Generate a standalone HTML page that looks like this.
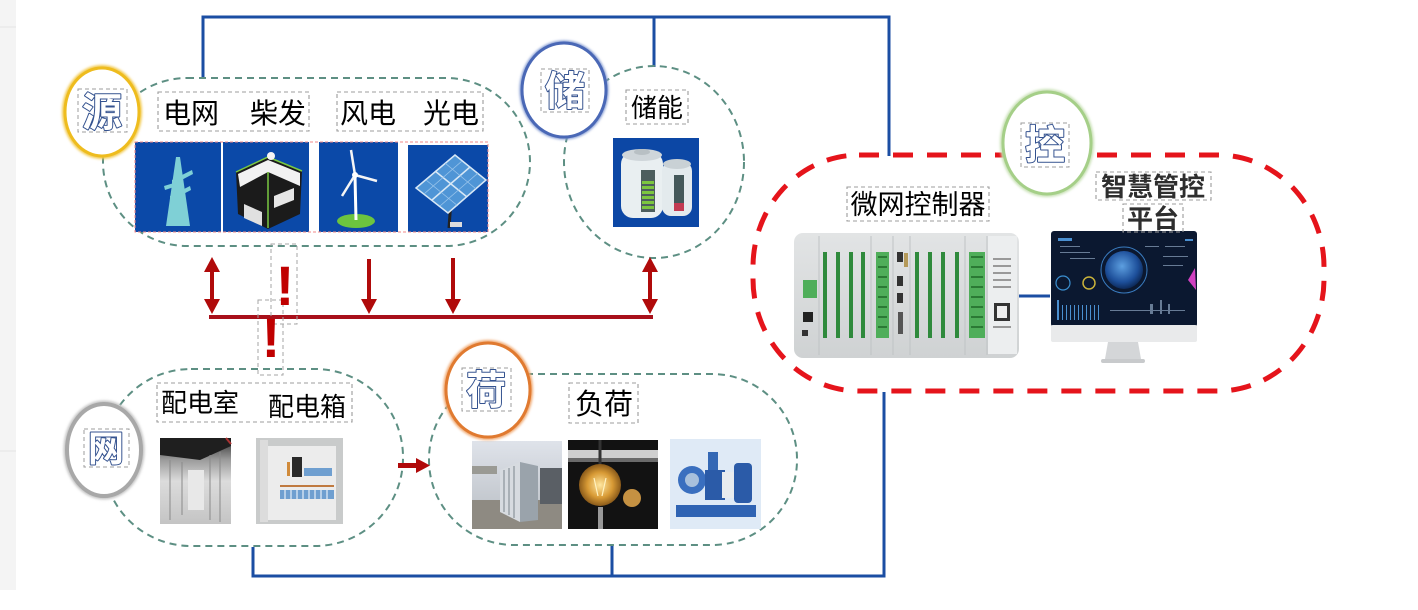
<!DOCTYPE html>
<html><head><meta charset="utf-8"><style>
html,body{margin:0;padding:0;background:#fff;}
svg{display:block}
text{font-family:"Liberation Sans","Noto Sans CJK SC",sans-serif;}
.cjk{font-family:"Liberation Sans","Noto Sans CJK SC",sans-serif;}
</style></head><body>
<svg width="1418" height="610" viewBox="0 0 1418 610" xmlns="http://www.w3.org/2000/svg">
<defs>
  <filter id="soft" x="-20%" y="-20%" width="140%" height="140%"><feGaussianBlur stdDeviation="1.2"/></filter>
  <radialGradient id="bulbg" cx="50%" cy="50%" r="50%"><stop offset="0" stop-color="#ffe7a0"/><stop offset="0.6" stop-color="#d89a35"/><stop offset="1" stop-color="#8a5a1a"/></radialGradient>
  <radialGradient id="globe" cx="45%" cy="40%" r="60%"><stop offset="0" stop-color="#5d9fe0"/><stop offset="0.7" stop-color="#1d4f9a"/><stop offset="1" stop-color="#0d2a5a"/></radialGradient>
  <linearGradient id="ctrlg" x1="0" y1="0" x2="0" y2="1"><stop offset="0" stop-color="#e2e4e5"/><stop offset="1" stop-color="#cfd2d3"/></linearGradient>
  <linearGradient id="roomg" x1="0" y1="0" x2="0" y2="1"><stop offset="0" stop-color="#2a2a2a"/><stop offset="0.25" stop-color="#9a9a9a"/><stop offset="0.5" stop-color="#dcdcdc"/><stop offset="1" stop-color="#c4c4c4"/></linearGradient>
  <linearGradient id="sky" x1="0" y1="0" x2="0" y2="1"><stop offset="0" stop-color="#dfe3ea"/><stop offset="1" stop-color="#b7bcc2"/></linearGradient>
</defs>

<rect x="0" y="0" width="16" height="590" fill="#f4f4f4"/>
<line x1="0" y1="27" x2="16" y2="27" stroke="#e3e3e3" stroke-width="1"/>
<line x1="0" y1="451" x2="16" y2="451" stroke="#e3e3e3" stroke-width="1"/>

<g stroke="#1b4ea3" stroke-width="3" fill="none">
  <polyline points="203,79 203,17 889,17 889,156"/>
  <line x1="654" y1="17" x2="654" y2="67"/>
  <polyline points="884,392 884,576 253,576 253,547"/>
  <line x1="612" y1="546" x2="612" y2="576"/>
  <line x1="1019" y1="296" x2="1050" y2="296"/>
</g>

<g fill="none" stroke="#5d8f83" stroke-width="2" stroke-dasharray="7 5">
  <rect x="103" y="78" width="427" height="168" rx="84" ry="84"/>
  <ellipse cx="654" cy="162" rx="90" ry="96"/>
  <rect x="103" y="369" width="300" height="177" rx="88" ry="88"/>
  <rect x="429" y="374" width="368" height="171" rx="85" ry="85"/>
</g>

<rect x="753" y="155" width="571" height="236" rx="106" ry="112" fill="none" stroke="#e5141b" stroke-width="5" stroke-dasharray="20 14"/>

<g>
  <rect x="135" y="142" width="86" height="90" fill="#0b49a8"/>
  <polygon points="176,157 180,157 190,226 166,226" fill="#7fd0d6"/>
  <polygon points="172,180 192,170 193,174 172,185" fill="#7fd0d6"/>
  <polygon points="170,196 190,186 191,190 170,201" fill="#7fd0d6"/>
  <polygon points="164,186 174,183 174,187 165,190" fill="#7fd0d6"/>

  <rect x="223" y="142" width="86" height="90" fill="#0b49a8"/>
  <polygon points="236,172 268,157 302,171 300,214 268,229 238,214" fill="#1b1b1b"/>
  <polygon points="238,174 268,160 300,173 300,186 268,172 240,187" fill="#f2f2f2"/>
  <polyline points="236,172 268,157 302,171" fill="none" stroke="#7ac943" stroke-width="1.5"/>
  <line x1="268" y1="172" x2="268" y2="228" stroke="#7ac943" stroke-width="1.5"/>
  <polygon points="274,196 294,188 294,200 274,208" fill="#e6e6e6"/>
  <circle cx="271" cy="156" r="4" fill="#f5f5f5"/>
  <polygon points="244,204 262,212 262,226 244,218" fill="#e0e0e0"/>

  <rect x="319" y="142" width="79" height="90" fill="#0b49a8"/>
  <ellipse cx="356" cy="221" rx="19" ry="7" fill="#6cc43f"/>
  <line x1="355" y1="176" x2="356" y2="220" stroke="#ffffff" stroke-width="3"/>
  <line x1="355" y1="175" x2="351" y2="150" stroke="#f5f5f5" stroke-width="2.5"/>
  <line x1="355" y1="175" x2="377" y2="181" stroke="#f5f5f5" stroke-width="2.5"/>
  <line x1="355" y1="175" x2="342" y2="196" stroke="#f5f5f5" stroke-width="2.5"/>
  <circle cx="355" cy="175" r="3" fill="#fff"/>

  <rect x="408" y="145" width="80" height="87" fill="#0b49a8"/>
  <line x1="451" y1="200" x2="449" y2="228" stroke="#222" stroke-width="3"/>
  <rect x="450" y="222" width="12" height="5" fill="#ddd"/>
  <polygon points="416,188 455,155 486,180 448,213" fill="#4f95d6" stroke="#d8e8f6" stroke-width="1.5"/>
  <line x1="435" y1="171" x2="467" y2="197" stroke="#d8e8f6" stroke-width="1.5"/>
  <line x1="432" y1="200" x2="470" y2="167" stroke="#d8e8f6" stroke-width="1.5"/>
  <line x1="426" y1="180" x2="458" y2="206" stroke="#9cc6ec" stroke-width="0.8"/>
  <line x1="445" y1="163" x2="476" y2="189" stroke="#9cc6ec" stroke-width="0.8"/>
  <line x1="424" y1="194" x2="462" y2="161" stroke="#9cc6ec" stroke-width="0.8"/>
  <line x1="440" y1="206" x2="478" y2="173" stroke="#9cc6ec" stroke-width="0.8"/>
  <rect x="135" y="142" width="353" height="90" fill="none" stroke="#f08a8a" stroke-width="1" stroke-dasharray="3 2"/>
</g>

<rect x="613" y="138" width="86" height="89" fill="#0c47a5"/>
<g>
  <rect x="621" y="152" width="42" height="66" rx="12" fill="#e9eff1"/>
  <ellipse cx="642" cy="155" rx="20" ry="6" fill="#cfd6da"/>
  <ellipse cx="642" cy="152" rx="8" ry="3" fill="#b8c0c4"/>
  <rect x="641" y="170" width="14" height="42" fill="#4d5e5e"/>
  <g fill="#7cc63f">
    <rect x="642" y="181" width="12" height="3"/><rect x="642" y="186" width="12" height="3"/>
    <rect x="642" y="191" width="12" height="3"/><rect x="642" y="196" width="12" height="3"/>
    <rect x="642" y="201" width="12" height="3"/><rect x="642" y="206" width="12" height="3"/>
  </g>
  <rect x="662" y="162" width="30" height="54" rx="9" fill="#e3eaed"/>
  <ellipse cx="677" cy="164" rx="14" ry="5" fill="#c9d1d5"/>
  <rect x="674" y="175" width="10" height="36" fill="#44585a"/>
  <rect x="674" y="203" width="10" height="8" fill="#c23a52"/>
</g>

<g fill="#b00a0a" stroke="none">
  <rect x="209" y="315" width="444" height="4" fill="#a8101a"/>
  <rect x="210" y="266" width="4" height="36"/>
  <polygon points="212,257 204,272 220,272"/>
  <polygon points="212,314 204,299 220,299"/>
  <rect x="367" y="259" width="4" height="42"/>
  <polygon points="369,314 361,299 377,299"/>
  <rect x="451" y="258" width="4" height="43"/>
  <polygon points="453,314 445,299 461,299"/>
  <rect x="648" y="266" width="4" height="36"/>
  <polygon points="650,257 642,272 658,272"/>
  <polygon points="650,314 642,299 658,299"/>
  <rect x="398" y="463" width="20" height="5"/>
  <polygon points="430,465.5 416,458 416,473"/>
</g>
<g fill="none" stroke="#a6a6a6" stroke-width="1" stroke-dasharray="4 3">
  <rect x="271" y="244" width="26" height="80"/>
  <rect x="258" y="300" width="25" height="75"/>
</g>
<text x="285" y="305" font-size="56" font-weight="bold" fill="#c00000" text-anchor="middle" style="font-family:'Liberation Sans',sans-serif">!</text>
<text x="271" y="357" font-size="56" font-weight="bold" fill="#c00000" text-anchor="middle" style="font-family:'Liberation Sans',sans-serif">!</text>

<rect x="794" y="233" width="225" height="125" rx="9" fill="url(#ctrlg)"/>
<g stroke="#bfc3c5" stroke-width="1">
  <line x1="819" y1="236" x2="819" y2="355"/><line x1="871" y1="236" x2="871" y2="355"/>
  <line x1="893" y1="236" x2="893" y2="355"/><line x1="910" y1="236" x2="910" y2="355"/>
  <line x1="965" y1="236" x2="965" y2="355"/><line x1="987" y1="236" x2="987" y2="355"/>
</g>
<rect x="988" y="236" width="29" height="118" fill="#eceeef"/>
<g fill="#2f8a3c">
  <rect x="823" y="252" width="4" height="86"/><rect x="836" y="252" width="4" height="86"/>
  <rect x="849" y="252" width="4" height="86"/><rect x="861" y="252" width="4" height="86"/>
  <rect x="915" y="252" width="4" height="86"/><rect x="928" y="252" width="4" height="86"/>
  <rect x="941" y="252" width="4" height="86"/><rect x="955" y="252" width="4" height="86"/>
</g>
<rect x="876" y="252" width="13" height="86" fill="#4fae5a"/>
<rect x="969" y="252" width="16" height="86" fill="#4fae5a"/>
<g fill="#2b7a35">
  <rect x="878" y="256" width="9" height="2"/><rect x="878" y="266" width="9" height="2"/><rect x="878" y="276" width="9" height="2"/><rect x="878" y="286" width="9" height="2"/><rect x="878" y="296" width="9" height="2"/><rect x="878" y="306" width="9" height="2"/><rect x="878" y="316" width="9" height="2"/><rect x="878" y="326" width="9" height="2"/>
  <rect x="971" y="256" width="12" height="2"/><rect x="971" y="266" width="12" height="2"/><rect x="971" y="276" width="12" height="2"/><rect x="971" y="286" width="12" height="2"/><rect x="971" y="296" width="12" height="2"/><rect x="971" y="306" width="12" height="2"/><rect x="971" y="316" width="12" height="2"/><rect x="971" y="326" width="12" height="2"/>
</g>
<rect x="897" y="252" width="6" height="10" fill="#333"/><rect x="897" y="276" width="6" height="10" fill="#333"/>
<rect x="897" y="293" width="6" height="10" fill="#333"/><rect x="898" y="312" width="5" height="22" fill="#555"/>
<rect x="904" y="253" width="4" height="14" fill="#b59a5a"/>
<rect x="803" y="280" width="14" height="18" fill="#4fae5a"/>
<rect x="803" y="312" width="10" height="10" fill="#222"/>
<rect x="802" y="330" width="6" height="6" fill="#333"/>
<rect x="994" y="303" width="16" height="18" fill="#333"/>
<rect x="997" y="306" width="10" height="12" fill="#eee"/>
<g fill="#999"><rect x="993" y="258" width="18" height="2"/><rect x="993" y="265" width="18" height="2"/><rect x="993" y="272" width="18" height="2"/><rect x="993" y="279" width="18" height="2"/><rect x="993" y="286" width="18" height="2"/><rect x="993" y="326" width="18" height="2"/></g>

<rect x="1051" y="231" width="146" height="96" rx="3" fill="#0b1830"/>
<rect x="1051" y="325" width="146" height="17" rx="2" fill="#e9eaeb"/>
<polygon points="1108,342 1138,342 1141,359 1105,359" fill="#d4d6d8"/>
<rect x="1101" y="359" width="44" height="4" rx="2" fill="#c8cacc"/>
<circle cx="1124" cy="270" r="19" fill="url(#globe)"/>
<circle cx="1124" cy="270" r="23" fill="none" stroke="#3a7cc0" stroke-width="1"/>
<circle cx="1063" cy="283" r="7" fill="none" stroke="#3b8fd0" stroke-width="1.2"/>
<circle cx="1089" cy="283" r="6" fill="none" stroke="#c9b23a" stroke-width="1.5"/>
<polygon points="1188,280 1195,268 1196,290" fill="#d040c0"/>
<g fill="#4a8fd0">
  <rect x="1058" y="238" width="14" height="3"/><rect x="1185" y="239" width="8" height="2"/>
  <rect x="1057" y="300" width="2" height="20"/>
  <rect x="1062" y="305" width="1" height="15"/><rect x="1066" y="305" width="1" height="15"/><rect x="1070" y="305" width="1" height="15"/><rect x="1074" y="305" width="1" height="15"/><rect x="1078" y="305" width="1" height="15"/><rect x="1082" y="305" width="1" height="15"/><rect x="1086" y="305" width="1" height="15"/><rect x="1090" y="305" width="1" height="15"/><rect x="1094" y="305" width="1" height="15"/><rect x="1098" y="305" width="1" height="15"/>
</g>
<g fill="#8fa6c0" opacity="0.7">
  <rect x="1060" y="246" width="20" height="1"/><rect x="1060" y="252" width="30" height="1"/><rect x="1070" y="258" width="25" height="1"/>
  <rect x="1145" y="246" width="14" height="1"/><rect x="1165" y="246" width="20" height="1"/><rect x="1163" y="256" width="25" height="1"/><rect x="1163" y="265" width="20" height="1"/>
  <rect x="1110" y="310" width="75" height="1"/><rect x="1150" y="304" width="3" height="10"/><rect x="1160" y="300" width="2" height="14"/><rect x="1168" y="304" width="2" height="10"/>
</g>

<rect x="160" y="438" width="71" height="86" fill="url(#roomg)"/>
<polygon points="160,438 231,438 231,446 200,460 160,455" fill="#1f1f1f"/>
<line x1="226" y1="438" x2="231" y2="444" stroke="#a33" stroke-width="2"/>
<g stroke="#8a8a8a" stroke-width="1">
  <line x1="170" y1="460" x2="170" y2="520"/><line x1="182" y1="462" x2="182" y2="515"/><line x1="210" y1="455" x2="210" y2="520"/><line x1="220" y1="452" x2="220" y2="522"/>
</g>
<rect x="188" y="470" width="16" height="40" fill="#e8e8e8"/>

<rect x="256" y="438" width="87" height="86" fill="#c9cbcb"/>
<rect x="268" y="446" width="68" height="74" fill="#ececec"/>
<rect x="260" y="440" width="8" height="82" fill="#dcdcdc"/>
<rect x="292" y="457" width="10" height="20" fill="#2a2a2a"/>
<rect x="287" y="462" width="3" height="14" fill="#d08a3a"/>
<rect x="304" y="468" width="28" height="8" fill="#6f9fd0"/>
<rect x="280" y="490" width="54" height="9" fill="#6f9fd0"/>
<g stroke="#fff" stroke-width="1"><line x1="285" y1="490" x2="285" y2="499"/><line x1="291" y1="490" x2="291" y2="499"/><line x1="297" y1="490" x2="297" y2="499"/><line x1="303" y1="490" x2="303" y2="499"/><line x1="309" y1="490" x2="309" y2="499"/><line x1="315" y1="490" x2="315" y2="499"/><line x1="321" y1="490" x2="321" y2="499"/><line x1="327" y1="490" x2="327" y2="499"/></g>
<line x1="280" y1="486" x2="334" y2="486" stroke="#c07a40" stroke-width="2"/>

<rect x="472" y="441" width="90" height="88" fill="url(#sky)"/>
<polygon points="472,500 562,500 562,529 472,529" fill="#8e8a82"/>
<polygon points="500,470 520,462 520,522 500,512" fill="#d7dbe0"/>
<polygon points="520,462 538,466 538,520 520,522" fill="#9aa3ab"/>
<g stroke="#7b848c" stroke-width="1"><line x1="504" y1="470" x2="504" y2="512"/><line x1="509" y1="468" x2="509" y2="515"/><line x1="514" y1="466" x2="514" y2="518"/></g>
<rect x="540" y="468" width="22" height="36" fill="#5a5f65"/>
<rect x="472" y="466" width="25" height="8" fill="#9a9a94"/>

<rect x="568" y="440" width="90" height="89" fill="#121212"/>
<rect x="568" y="450" width="90" height="12" fill="#cfcfcf"/>
<rect x="568" y="458" width="90" height="4" fill="#6a6a6a"/>
<line x1="600" y1="440" x2="600" y2="468" stroke="#333" stroke-width="3"/>
<circle cx="600" cy="485" r="21" fill="url(#bulbg)"/>
<path d="M594 478 L598 496 M606 478 L602 496" stroke="#fff2c0" stroke-width="1.2" fill="none"/>
<circle cx="632" cy="498" r="9" fill="#d9a048" opacity="0.9"/>
<rect x="598" y="507" width="5" height="22" fill="#999"/>

<rect x="670" y="439" width="91" height="90" fill="#dfeaf6"/>
<rect x="676" y="505" width="80" height="12" fill="#2f63b3"/>
<circle cx="692" cy="480" r="14" fill="#3a6fbf"/>
<circle cx="692" cy="480" r="7" fill="#a8c0dc"/>
<rect x="705" y="470" width="20" height="30" fill="#2b5ba8"/>
<rect x="722" y="472" width="14" height="26" fill="#e8ecef"/>
<rect x="734" y="463" width="18" height="40" rx="4" fill="#2b5ba8"/>
<rect x="708" y="452" width="10" height="18" fill="#3468b5"/>

<g fill="none" stroke="#9c9c9c" stroke-width="1.1" stroke-dasharray="4 3">
  <rect x="158" y="92" width="151" height="39"/>
  <rect x="337" y="92" width="146" height="39"/>
  <rect x="626" y="90" width="62" height="34"/>
  <rect x="847" y="187" width="142" height="34"/>
  <rect x="1096" y="172" width="115" height="28"/>
  <rect x="1123" y="204" width="60" height="28"/>
  <rect x="157" y="383" width="195" height="39"/>
  <rect x="569" y="383" width="69" height="40"/>
</g>

<g fill="#000" font-size="28" text-anchor="middle" class="cjk">
  <text x="191" y="123">电网</text>
  <text x="278" y="123">柴发</text>
  <text x="368" y="123">风电</text>
  <text x="451" y="123">光电</text>
</g>
<text x="657" y="117" font-size="26" text-anchor="middle" class="cjk">储能</text>
<text x="918" y="214" font-size="27" text-anchor="middle" class="cjk">微网控制器</text>
<text x="1153" y="196" font-size="26" font-weight="bold" fill="#2e2e2e" text-anchor="middle" class="cjk">智慧管控</text>
<text x="1153" y="228" font-size="26" font-weight="bold" fill="#2e2e2e" text-anchor="middle" class="cjk">平台</text>
<text x="200" y="412" font-size="26" text-anchor="middle" class="cjk">配电室</text>
<text x="307" y="416" font-size="26" text-anchor="middle" class="cjk">配电箱</text>
<text x="604" y="414" font-size="29" text-anchor="middle" class="cjk">负荷</text>

<g>
  <ellipse cx="102" cy="112" rx="37" ry="44" fill="#fff" stroke="#f2c94c" stroke-width="6" filter="url(#soft)"/>
  <ellipse cx="102" cy="112" rx="37" ry="44" fill="#fff" stroke="#eebc1e" stroke-width="3"/>
  <ellipse cx="564" cy="90" rx="42" ry="47" fill="#fff" stroke="#7f97d0" stroke-width="5" filter="url(#soft)"/>
  <ellipse cx="564" cy="90" rx="42" ry="47" fill="#fff" stroke="#4a68b6" stroke-width="3"/>
  <ellipse cx="1047" cy="143" rx="44" ry="51" fill="#fff" stroke="#c7e0b4" stroke-width="6" filter="url(#soft)"/>
  <ellipse cx="1047" cy="143" rx="44" ry="51" fill="#fff" stroke="#a5cf88" stroke-width="3"/>
  <ellipse cx="104" cy="450" rx="37" ry="46" fill="#fff" stroke="#c4c4c4" stroke-width="7" filter="url(#soft)"/>
  <ellipse cx="104" cy="450" rx="37" ry="46" fill="#fff" stroke="#a8a8a8" stroke-width="4"/>
  <ellipse cx="488" cy="390" rx="42" ry="47" fill="#fff" stroke="#f0a870" stroke-width="6" filter="url(#soft)"/>
  <ellipse cx="488" cy="390" rx="42" ry="47" fill="#fff" stroke="#e07a30" stroke-width="3"/>
</g>
<g fill="none" stroke="#9c9c9c" stroke-width="1" stroke-dasharray="4 3">
  <rect x="78" y="89" width="49" height="43"/>
  <rect x="541" y="69" width="48" height="43"/>
  <rect x="1021" y="123" width="48" height="44"/>
  <rect x="84" y="429" width="45" height="38"/>
  <rect x="462" y="368" width="49" height="43"/>
</g>
<g font-size="40" font-weight="bold" text-anchor="middle" fill="#ffffff" stroke="#34528f" stroke-width="2" paint-order="stroke" stroke-linejoin="round" class="cjk">
  <text x="102" y="126">源</text>
  <text x="565" y="105">储</text>
  <text x="1045" y="159">控</text>
  <text x="106" y="461" font-size="36">网</text>
  <text x="486" y="404">荷</text>
</g>
</svg>
</body></html>
